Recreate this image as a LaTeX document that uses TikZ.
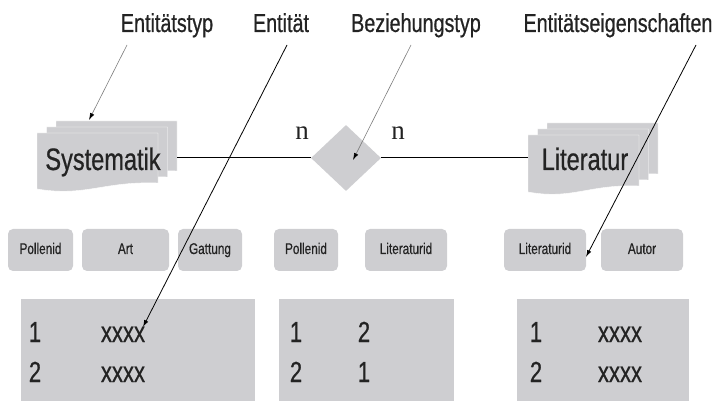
\documentclass[tikz,border=0pt]{standalone}
\usepackage{fontspec}
\setmainfont{Liberation Sans}[FakeStretch=0.76,FakeBold=0.6]
\newfontfamily\cardfont{Liberation Serif}
\usetikzlibrary{shapes.geometric,arrows.meta}

\definecolor{boxgray}{RGB}{206,206,209}
\definecolor{pointergray}{RGB}{125,125,125}
\definecolor{inkgray}{RGB}{35,35,35}

\tikzset{
  lbl/.style={font=\fontsize{26}{30}\selectfont, text=inkgray, inner sep=0pt, anchor=base},
  entname/.style={font=\fontsize{31}{36}\selectfont, text=inkgray, inner sep=0pt, anchor=base},
  card/.style={font=\cardfont\fontsize{27}{30}\selectfont, text=inkgray, inner sep=0pt, anchor=base},
  attr/.style={fill=boxgray, rounded corners=5pt, minimum height=42pt, inner sep=0pt,
               text height=11pt, text depth=3pt, text=inkgray,
               font=\fontsize{15.5}{18}\selectfont},
  tbl/.style={fill=boxgray, inner sep=0pt, anchor=north west},
  cell/.style={font=\fontsize{29}{32}\selectfont, text=inkgray, inner sep=0pt, anchor=base},
  bound/.style={inner sep=0pt},
  relline/.style={line width=1pt, black},
  softptr/.style={line width=0.6pt, pointergray, -{Latex[length=7pt,width=4.5pt,color=black]}},
  hardptr/.style={line width=0.8pt, black, -{Latex[length=7pt,width=4.5pt]}},
}

% three stacked document sheets with a wavy lower edge
% #1,#2 = top-left of the front sheet, #3 = width, #4 = height
\newcommand\docstack[4]{%
  \foreach \k in {2,1,0}{%
    \begin{scope}[shift={({9.5*\k},{-6*\k})}]
      \path[fill=boxgray, draw=white, line width=0.4pt]
        (#1,#2) -- ({#1+#3},#2) -- ({#1+#3},{#2+#4-7})
        .. controls ({#1+0.55*#3},{#2+#4-9}) and ({#1+0.4*#3},{#2+#4+7}) ..
        (#1,{#2+#4-1}) -- cycle;
    \end{scope}
  }%
}

\begin{document}
\begin{tikzpicture}[x=1pt,y=-1pt]
  \useasboundingbox (0,0) rectangle (716,401);

  % entity types
  \docstack{37}{133}{121}{57}
  \docstack{528}{135}{111}{58}
  \node[bound, minimum width=140pt, minimum height=70pt] (sys) at (107,158) {};
  \node[bound, minimum width=130pt, minimum height=70pt] (lit) at (593,158) {};
  \node[entname] (systxt) at (103,170) {Systematik};
  \node[entname] (littxt) at (585,170) {Literatur};

  % relationship type
  \node[diamond, fill=boxgray, minimum width=70pt, minimum height=66pt, inner sep=0pt]
    (rel) at (346,158) {};
  \draw[relline] (sys.east) -- (rel.west);
  \draw[relline] (rel.east) -- (lit.west);
  \node[card] (n1) at (302,140) {n};
  \node[card] (n2) at (398,140) {n};

  % attributes
  \node[attr, minimum width=65pt] (aPoll1) at (40.5,250) {Pollenid};
  \node[attr, minimum width=87pt] (aArt)   at (125.5,250) {Art};
  \node[attr, minimum width=64pt] (aGatt)  at (210,250) {Gattung};
  \node[attr, minimum width=64pt] (aPoll2) at (306,250) {Pollenid};
  \node[attr, minimum width=82pt] (aLit1)  at (406,250) {Literaturid};
  \node[attr, minimum width=82pt] (aLit2)  at (545,250) {Literaturid};
  \node[attr, minimum width=82pt] (aAut)   at (642,250) {Autor};

  % tables with entities
  \node[tbl, minimum width=234pt, minimum height=106pt] (t1) at (21,299) {};
  \node[tbl, minimum width=175pt, minimum height=106pt] (t2) at (279,299) {};
  \node[tbl, minimum width=172pt, minimum height=106pt] (t3) at (517,299) {};

  \node[cell] (c11) at (35,342) {1};
  \node[cell] (c12) at (123,342) {xxxx};
  \node[cell] (c21) at (35,382) {2};
  \node[cell] (c22) at (123,382) {xxxx};

  \node[cell] (d11) at (296,342) {1};
  \node[cell] (d12) at (364,342) {2};
  \node[cell] (d21) at (296,382) {2};
  \node[cell] (d22) at (364,382) {1};

  \node[cell] (e11) at (536,342) {1};
  \node[cell] (e12) at (620,342) {xxxx};
  \node[cell] (e21) at (536,382) {2};
  \node[cell] (e22) at (620,382) {xxxx};

  % captions
  \node[lbl] (lEtyp) at (167,32) {Entitätstyp};
  \node[lbl] (lEnt)  at (281,32) {Entität};
  \node[lbl] (lBez)  at (416,32) {Beziehungstyp};
  \node[lbl] (lEig)  at (618,32) {Entitätseigenschaften};

  % pointers from the captions
  \coordinate (pEtypS) at (127,45);
  \coordinate (pEtypE) at (89,120);
  \coordinate (pEntS)  at (287,45);
  \coordinate (pEntE)  at (143,327);
  \coordinate (pBezS)  at (411,45);
  \coordinate (pBezE)  at (353,160);
  \coordinate (pEigS)  at (696,45);
  \coordinate (pEigE)  at (586,257);

  \draw[softptr] (pEtypS) -- (pEtypE);
  \draw[hardptr] (pEntS)  -- (pEntE);
  \draw[softptr] (pBezS)  -- (pBezE);
  \draw[hardptr] (pEigS)  -- (pEigE);
\end{tikzpicture}
\end{document}
